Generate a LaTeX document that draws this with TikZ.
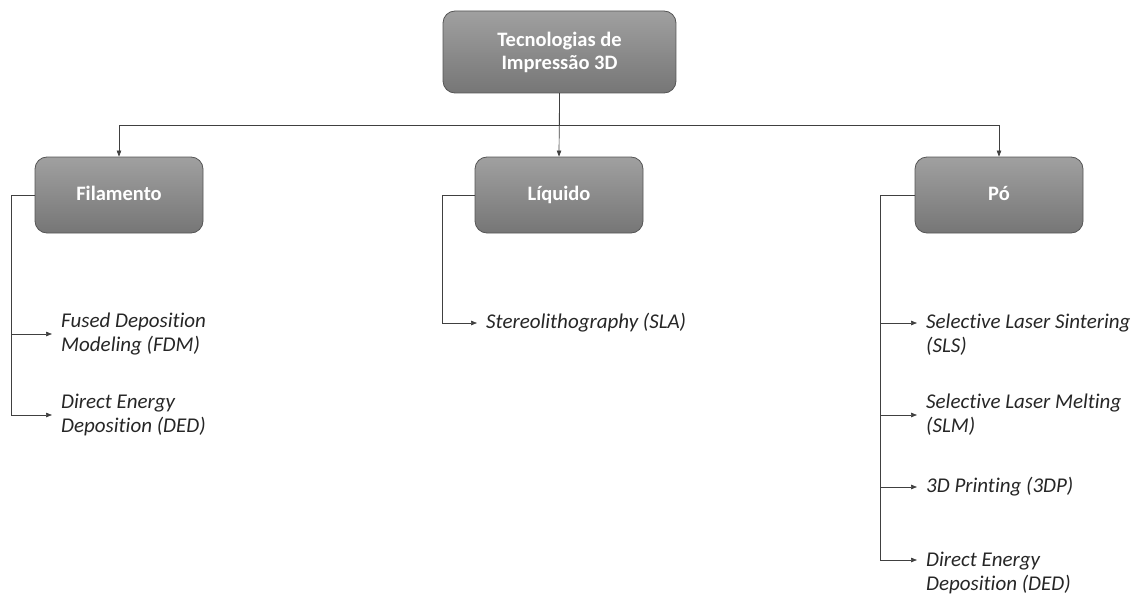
\documentclass[tikz,border=0pt]{standalone}
\usepackage{fontspec}
\setmainfont[Ligatures=NoCommon]{Carlito}
\usepackage{tikz}
\usetikzlibrary{arrows.meta,positioning,calc}
\definecolor{boxtop}{RGB}{160,160,160}
\definecolor{boxbot}{RGB}{118,118,118}
\definecolor{boxline}{RGB}{85,85,85}
\tikzset{
    techbox/.style={draw=boxline,line width=0.8pt,rounded corners=12pt,top color=boxtop,bottom color=boxbot,
        text=white,font=\fontsize{20.5}{23}\selectfont\bfseries,align=center},
    catbox/.style={techbox,minimum width=168pt,minimum height=76pt,text height=14pt,text depth=4pt},
    item/.style={anchor=west,inner sep=0pt,align=left,text=black!85,font=\fontsize{21}{24}\selectfont\itshape},
    conn/.style={line width=0.7pt,black!75},
    arr/.style={conn,-{Triangle[length=6pt,width=4.5pt]}},
    itemarr/.style={arr,shorten >=9pt}
}

\begin{document}
\begin{tikzpicture}[x=1pt,y=-1pt]
        \useasboundingbox (0,0) rectangle (1141,594);
        % caixas
        \node[techbox,minimum width=233pt,minimum height=82pt] (top) at (559.5,52) {Tecnologias de\\Impressão 3D};
        \node[catbox] (filamento) at (119,195) {Filamento};
        \node[catbox] (liquido) at (559,195) {Líquido};
        \node[catbox] (po) at (999,195) {Pó};
        \draw[arr] (top.south) -- (liquido.north);
        \draw[arr] (top.south) -- ++(0,32) -| (filamento.north);
        \draw[arr] (top.south) -- ++(0,32) -| (po.north);
        % tecnologias
        \node[item] (fdm) at (61,334) {Fused Deposition\\Modeling (FDM)};
        \node[item] (dedf) at (61,415) {Direct Energy\\Deposition (DED)};
        \node[item] (sla) at (486,323) {Stereolithography (SLA)};
        \node[item] (sls) at (926,335) {Selective Laser Sintering\\(SLS)};
        \node[item] (slm) at (926,415) {Selective Laser Melting\\(SLM)};
        \node[item] (tdp) at (926,487) {3D Printing (3DP)};
        \node[item] (dedp) at (926,573) {Direct Energy\\Deposition (DED)};
        \draw[itemarr] (filamento.west) -- ++(-23,0) |- (fdm.west);
        \draw[itemarr] (filamento.west) -- ++(-23,0) |- (dedf.west);
        \draw[itemarr] (liquido.west) -- ++(-32,0) |- (sla.west);
        \draw[itemarr] (po.west) -- ++(-34,0) |- ([yshift=12pt]sls.west);
        \draw[itemarr] (po.west) -- ++(-34,0) |- (slm.west);
        \draw[itemarr] (po.west) -- ++(-34,0) |- (tdp.west);
        \draw[itemarr] (po.west) -- ++(-34,0) |- ([yshift=13pt]dedp.west);
    \end{tikzpicture}
\end{document}
